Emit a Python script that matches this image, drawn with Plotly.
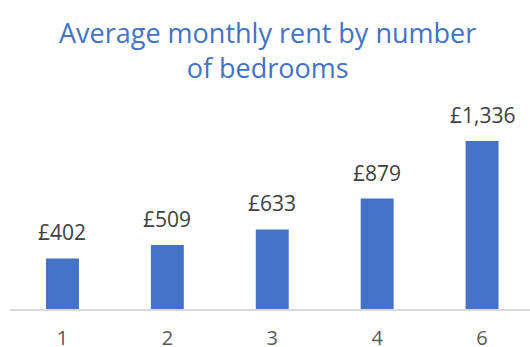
import plotly.graph_objects as go

# Average monthly rent by number of bedrooms
bedrooms = ["1", "2", "3", "4", "6"]
rent = [402, 509, 633, 879, 1336]
labels = [f"£{v:,}" for v in rent]

BLUE = "#4472C4"
TEXT_GREY = "#404040"
AXIS_GREY = "#595959"
FONT = "Open Sans"

fig = go.Figure(
    go.Bar(
        x=bedrooms,
        y=rent,
        marker=dict(color=BLUE, line=dict(width=0)),
        width=0.314,
        hoverinfo="x+y",
    )
)

# value labels above each bar (category axis positions are 0..n-1)
for i, (v, t) in enumerate(zip(rent, labels)):
    fig.add_annotation(
        x=i, y=v, text=t, showarrow=False,
        xanchor="center", yanchor="bottom", yshift=10,
        font=dict(family=FONT, size=21, color=TEXT_GREY),
    )

fig.update_layout(
    width=530,
    height=347,
    margin=dict(l=9.5, r=0, t=100, b=38.3, autoexpand=False),
    paper_bgcolor="white",
    plot_bgcolor="white",
    showlegend=False,
    title=dict(
        text="Average monthly rent by number<br>of bedrooms",
        x=0.505, xanchor="center",
        y=0.875, yanchor="top", yref="container",
        font=dict(family=FONT, size=27, color=BLUE),
    ),
    xaxis=dict(
        type="category",
        range=[-0.5, 4.457],
        automargin=False,
        showline=True, linecolor="#D9D9D9", linewidth=2,
        showgrid=False, zeroline=False,
        ticks="outside", ticklen=10, tickcolor="rgba(0,0,0,0)",
        tickfont=dict(family=FONT, size=20, color=AXIS_GREY),
    ),
    yaxis=dict(
        range=[0, 1663],
        visible=False,
        automargin=False,
        showgrid=False, zeroline=False,
    ),
)

fig.write_html("out.html")
